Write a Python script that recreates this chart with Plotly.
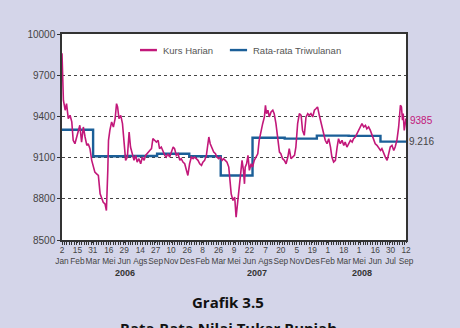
import plotly.graph_objects as go
import pandas as pd

# ---------------- data ----------------
start = pd.Timestamp("2006-01-02")
end = pd.Timestamp("2008-09-12")

# daily exchange rate: days since 2 Jan 2006, value
kurs_day = [0, 2, 4, 9, 13, 18, 23, 28, 32, 37, 42, 47, 51, 56, 61, 66, 71, 75, 80, 85,
            90, 94, 99, 104, 109, 113, 118, 123, 127, 131, 133, 137, 142, 147, 152, 156, 159, 163, 168, 173,
            177, 182, 187, 192, 196, 201, 206, 211, 215, 220, 225, 230, 235, 239, 246, 251, 256, 260, 265, 270,
            275, 279, 284, 289, 294, 298, 303, 308, 313, 318, 322, 327, 332, 337, 341, 346, 351, 356, 360, 365,
            370, 375, 379, 384, 389, 394, 399, 403, 408, 413, 418, 420, 424, 429, 434, 439, 443, 448, 453, 458,
            462, 467, 472, 477, 481, 484, 489, 494, 498, 502, 507, 512, 515, 519, 522, 524, 528, 532, 536, 541,
            545, 550, 555, 560, 564, 569, 574, 579, 582, 585, 589, 593, 598, 603, 607, 612, 617, 622, 626, 631,
            636, 641, 646, 650, 655, 660, 665, 669, 674, 679, 684, 688, 693, 698, 703, 707, 712, 717, 722, 727,
            731, 736, 744, 748, 753, 758, 763, 768, 772, 777, 782, 787, 791, 796, 801, 806, 810, 815, 820, 825,
            830, 834, 839, 844, 849, 853, 858, 863, 868, 872, 877, 882, 887, 892, 896, 901, 906, 911, 915, 920,
            925, 930, 934, 939, 944, 949, 953, 958, 963, 968, 971, 974, 976, 979, 984]
kurs_val = [9860, 9650, 9518, 9445, 9493, 9384, 9408, 9360, 9226, 9201, 9250, 9286, 9335, 9213, 9323, 9250, 9189, 9201, 9165, 9080,
            9031, 8994, 8982, 8970, 8836, 8812, 8775, 8763, 8715, 9007, 9226, 9300, 9360, 9323, 9384, 9493, 9469, 9384, 9408, 9347,
            9201, 9080, 9104, 9286, 9177, 9128, 9080, 9116, 9067, 9092, 9055, 9104, 9080, 9116, 9140, 9152, 9165, 9238, 9226, 9213,
            9226, 9165, 9177, 9140, 9116, 9104, 9128, 9104, 9140, 9177, 9165, 9116, 9128, 9080, 9092, 9067, 9055, 8994, 8970, 9055,
            9104, 9092, 9104, 9092, 9080, 9055, 9043, 9067, 9080, 9116, 9226, 9250, 9201, 9165, 9140, 9128, 9104, 9092, 9104, 9080,
            9092, 9080, 9067, 9031, 8885, 8836, 8788, 8812, 8666, 8763, 8836, 8958, 9080, 9007, 8909, 9031, 9055, 9116, 9007, 9055,
            9031, 9080, 9104, 9128, 9226, 9298, 9347, 9396, 9481, 9420, 9445, 9396, 9433, 9445, 9420, 9347, 9226, 9140, 9128, 9092,
            9080, 9055, 9104, 9165, 9092, 9104, 9116, 9177, 9347, 9420, 9408, 9298, 9262, 9396, 9420, 9408, 9420, 9396, 9445, 9457,
            9469, 9408, 9323, 9286, 9226, 9201, 9238, 9177, 9104, 9067, 9080, 9177, 9238, 9201, 9226, 9189, 9213, 9177, 9201, 9226,
            9213, 9238, 9250, 9274, 9298, 9323, 9347, 9323, 9335, 9310, 9323, 9298, 9262, 9238, 9201, 9189, 9165, 9152, 9165, 9128,
            9104, 9080, 9128, 9177, 9189, 9152, 9177, 9226, 9323, 9481, 9469, 9372, 9420, 9298, 9385]
kurs_dates = [start + pd.Timedelta(days=d) for d in kurs_day]

# quarterly averages
quarter_start = ["2006-01-02", "2006-04-01", "2006-07-01", "2006-10-01", "2007-01-01", "2007-04-01",
                 "2007-07-01", "2007-10-01", "2008-01-01", "2008-04-01", "2008-07-01"]
quarter_avg = [9303, 9110, 9112, 9128, 9110, 8970, 9245, 9238, 9260, 9258, 9216]

# axis ticks
tick_dates = ["2006-01-02", "2006-02-15", "2006-03-31", "2006-05-16", "2006-06-29", "2006-08-14",
              "2006-09-27", "2006-11-10", "2006-12-26", "2007-02-08", "2007-03-26", "2007-05-09",
              "2007-06-22", "2007-08-07", "2007-09-20", "2007-11-05", "2007-12-19", "2008-02-01",
              "2008-03-18", "2008-05-01", "2008-06-16", "2008-07-30", "2008-09-12"]
tick_days = ["2", "15", "31", "16", "29", "14", "27", "10", "26", "8", "26", "9", "22", "7", "20",
             "5", "19", "1", "18", "1", "16", "30", "12"]
tick_months = ["Jan", "Feb", "Mar", "Mei", "Jun", "Ags", "Sep", "Nov", "Des", "Feb", "Mar", "Mei",
               "Jun", "Ags", "Sep", "Nov", "Des", "Feb", "Mar", "Mei", "Jun", "Jul", "Sep"]
year_labels = ["2006", "2007", "2008"]
year_pos = ["2006-07-01", "2007-07-13", "2008-05-09"]
y_ticks = [8500, 8800, 9100, 9400, 9700, 10000]

MAGENTA = "#c2187a"
BLUE = "#1b5f98"
BG = "#d4d5e9"
FONT = "Liberation Sans"

# ---------------- figure ----------------
fig = go.Figure()
fig.add_trace(go.Scatter(x=quarter_start + [end.strftime("%Y-%m-%d")],
                         y=quarter_avg + [quarter_avg[-1]],
                         mode="lines", line=dict(color=BLUE, width=2.4, shape="hv"),
                         name="Rata-rata Triwulanan", hoverinfo="skip"))
fig.add_trace(go.Scatter(x=kurs_dates, y=kurs_val, mode="lines",
                         line=dict(color=MAGENTA, width=1.6),
                         name="Kurs Harian"))

fig.update_layout(
    width=460, height=328,
    margin=dict(l=62, r=54, t=34, b=88),
    paper_bgcolor=BG, plot_bgcolor="white",
    showlegend=False,
    font=dict(family=FONT, size=9, color="#444"),
)
fig.update_xaxes(
    type="date", range=[start, end],
    tickvals=tick_dates,
    ticktext=[f"{d}<br>{m}" for d, m in zip(tick_days, tick_months)],
    tickangle=0,
    tickfont=dict(size=8.3, color="#444"),
    ticks="outside", ticklen=1, tickcolor="#333",
    showline=True, linecolor="#333", linewidth=1.5, mirror=True,
    showgrid=False, zeroline=False,
    minor=dict(ticks="outside", ticklen=3, tickcolor="#333",
               dtick=7 * 86400000, tick0="2006-01-02", showgrid=False),
)
fig.update_yaxes(
    range=[8500, 10000], tickvals=y_ticks, ticktext=[str(v) for v in y_ticks],
    tickfont=dict(size=10, color="#444"),
    ticks="outside", ticklen=3, tickcolor="#333",
    showline=True, linecolor="#333", linewidth=1.5, mirror=True,
    showgrid=True, gridcolor="#444", griddash="dot", gridwidth=1,
    zeroline=False,
)

annotations = []
# year labels
for yl, yp in zip(year_labels, year_pos):
    annotations.append(dict(x=yp, y=0, xref="x", yref="paper", yshift=-33,
                            text=f"<b>{yl}</b>", showarrow=False,
                            font=dict(size=9, color="#333", family=FONT),
                            xanchor="center", yanchor="middle"))
# end-value labels
annotations.append(dict(x=1, y=kurs_val[-1], xref="paper", yref="y", xshift=2, yshift=-2,
                        text=f"{kurs_val[-1]}", showarrow=False,
                        font=dict(size=10, color=MAGENTA, family=FONT),
                        xanchor="left", yanchor="middle"))
annotations.append(dict(x=1, y=quarter_avg[-1], xref="paper", yref="y", xshift=1,
                        text=f"{quarter_avg[-1] // 1000}.{quarter_avg[-1] % 1000:03d}",
                        showarrow=False, font=dict(size=10, color="#444", family=FONT),
                        xanchor="left", yanchor="middle"))
# manual legend
leg_y = 0.922
shapes = [
    dict(type="line", xref="paper", yref="paper", x0=0.2267, x1=0.276, y0=leg_y, y1=leg_y,
         line=dict(color=MAGENTA, width=2.4)),
    dict(type="line", xref="paper", yref="paper", x0=0.488, x1=0.538, y0=leg_y, y1=leg_y,
         line=dict(color=BLUE, width=2.4)),
]
annotations.append(dict(x=0.288, y=leg_y, xref="paper", yref="paper", text="Kurs Harian",
                        showarrow=False, xanchor="left", yanchor="middle",
                        font=dict(size=9.5, color="#555", family=FONT)))
annotations.append(dict(x=0.549, y=leg_y, xref="paper", yref="paper", text="Rata-rata Triwulanan",
                        showarrow=False, xanchor="left", yanchor="middle",
                        font=dict(size=9.5, color="#555", family=FONT)))
# titles
annotations.append(dict(x=0.484, y=-0.301, xref="paper", yref="paper", text="<b>Grafik 3.5</b>",
                        showarrow=False, xanchor="center", yanchor="middle",
                        font=dict(size=15, color="#111", family="Open Sans")))
annotations.append(dict(x=0.484, y=-0.425, xref="paper", yref="paper",
                        text="<b>Rata-Rata Nilai Tukar Rupiah</b>",
                        showarrow=False, xanchor="center", yanchor="middle",
                        font=dict(size=15, color="#111", family="Open Sans")))

fig.update_layout(annotations=annotations, shapes=shapes)
fig.write_html("out.html")
